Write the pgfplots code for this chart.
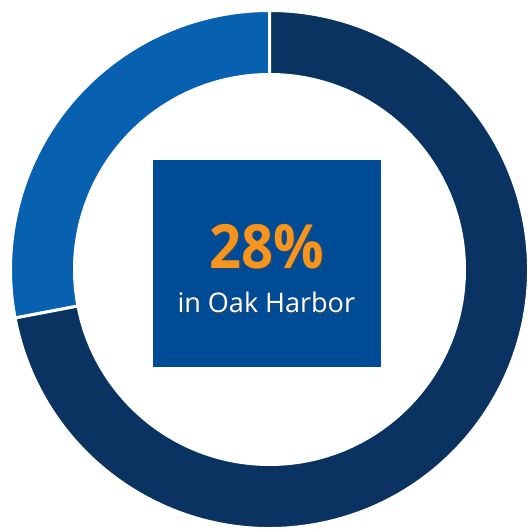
\documentclass[border=0pt]{standalone}
\usepackage{pgfplots}
\pgfplotsset{compat=1.18}
\usepackage{fontspec}
\setmainfont{Open Sans}
\definecolor{lightslice}{HTML}{0760B0}
\definecolor{darkslice}{HTML}{0B3362}
\definecolor{boxblue}{HTML}{004B95}
\definecolor{orangetxt}{HTML}{F7941E}
\pgfdeclareplotmark{donutslice}{%
  \pgfmathsetmacro\sa{90+3.6*\slicestart}%
  \pgfmathsetmacro\ea{90+3.6*(\slicestart+\slicepct)}%
  \pgfpathmoveto{\pgfpointpolar{\sa}{259pt}}%
  \pgfpatharc{\sa}{\ea}{259pt}%
  \pgfpathlineto{\pgfpointpolar{\ea}{195pt}}%
  \pgfpatharc{\ea}{\sa}{195pt}%
  \pgfpathclose
  \pgfusepathqfillstroke}
\begin{document}
\begin{tikzpicture}
\begin{axis}[
  width=532pt, height=529pt, scale only axis,
  xmin=0, xmax=532, ymin=0, ymax=529,
  hide axis, clip=false,
  visualization depends on={\thisrow{start} \as \slicestart},
  visualization depends on={\thisrow{pct} \as \slicepct},
]
% slice: Oak Harbor 28%
\addplot[only marks, mark=donutslice,
  mark options={fill=lightslice, draw=white, line width=3pt}] table {
x y start pct
269.5 259.5 0 28
};
% slice: rest 72%
\addplot[only marks, mark=donutslice,
  mark options={fill=darkslice, draw=white, line width=3pt}] table {
x y start pct
269.5 259.5 28 72
};
\fill[boxblue] (axis cs:153,162) rectangle (axis cs:381,369);
\node[anchor=base, xscale=0.92, text=black!70, opacity=0.45, font=\fontsize{61}{61}\selectfont\bfseries] at (axis cs:268.5,259.2) {28\%};
\node[anchor=base, xscale=0.92, text=orangetxt, font=\fontsize{61}{61}\selectfont\bfseries] at (axis cs:267,260.7) {28\%};
\node[anchor=base, text=black!70, opacity=0.45, font=\fontsize{27}{27}\selectfont] at (axis cs:267.5,214.8) {in Oak Harbor};
\node[anchor=base, text=white, font=\fontsize{27}{27}\selectfont] at (axis cs:266.3,216) {in Oak Harbor};
\end{axis}
\pgfresetboundingbox
\useasboundingbox (0,0) rectangle (532pt,529pt);
\end{tikzpicture}
\end{document}
